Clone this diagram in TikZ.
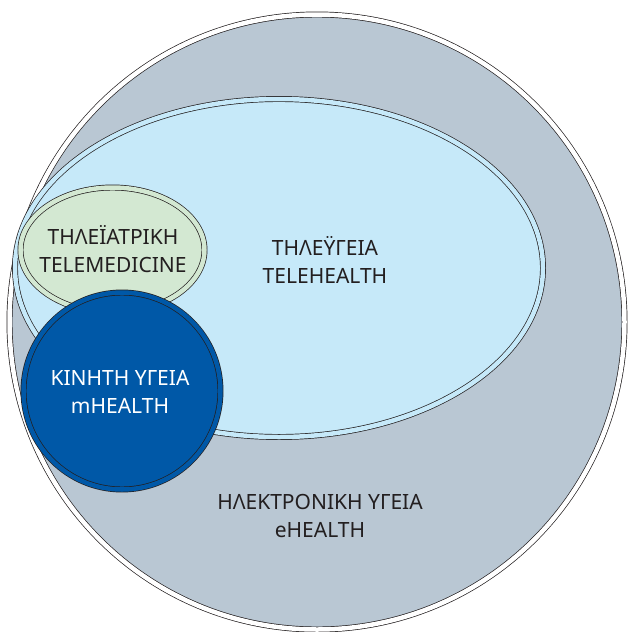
\documentclass[tikz,border=0pt]{standalone}
\usepackage{fontspec}
\setmainfont{Noto Sans}
\usetikzlibrary{shapes.geometric}
\usetikzlibrary{positioning}
\definecolor{ehgray}{HTML}{B9C7D3}
\definecolor{thblue}{HTML}{C6E9F9}
\definecolor{tmgreen}{HTML}{D3E8D2}
\definecolor{mhblue}{HTML}{0058A7}
\definecolor{txtdark}{HTML}{231F20}
\begin{document}
\begin{tikzpicture}[x=1pt,y=-1pt,every node/.style={inner sep=0pt,outer sep=0pt},
  ring/.style={draw=txtdark,line width=0.7pt,double distance=4.5pt},
  lbl/.style={align=center,font=\fontsize{21}{28}\selectfont,text=txtdark}]
  \useasboundingbox (0,0) rectangle (627,632);
  \node[ring,circle,fill=ehgray,double=white,minimum size=615pt] (ehealth) at (317,322){};
  \node[ring,ellipse,fill=thblue,double=thblue,minimum width=528pt,minimum height=338pt] (telehealth) at (279,268){};
  \node[ring,ellipse,fill=tmgreen,double=tmgreen,minimum width=184pt,minimum height=125pt] (telemed) at (112.5,250){};
  \node[ring,circle,fill=mhblue,double=mhblue,minimum size=197pt] (mhealth) at (122,391){};
  \node[lbl] (ehtext) at (320,516) {ΗΛΕΚΤΡΟΝΙΚΗ ΥΓΕΙΑ\\eHEALTH};
  \node[lbl] (thtext) at (325,260) {ΤΗΛΕΫΓΕΙΑ\\TELEHEALTH};
  \node[lbl] (tmtext) at (113,249) {ΤΗΛΕΪΑΤΡΙΚΗ\\TELEMEDICINE};
  \node[lbl,text=white] (mhtext) at (120,392) {ΚΙΝΗΤΗ ΥΓΕΙΑ\\mHEALTH};
\end{tikzpicture}
\end{document}
